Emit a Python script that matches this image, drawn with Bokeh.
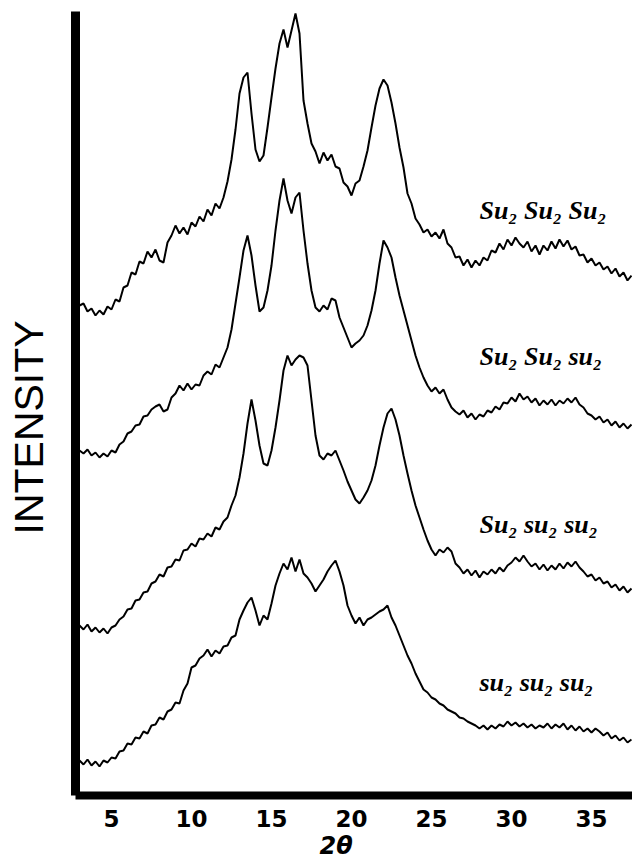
import math
from bokeh.plotting import figure
from bokeh.models import Range1d, FixedTicker, Title, ColumnDataSource
from bokeh.core.properties import value
from bokeh.embed import file_html
from bokeh.resources import INLINE

# 2-theta sampling positions (degrees), 0.25 degree steps from 3.0 to 37.5
two_theta = [3.0 + 0.25 * i for i in range(139)]

# Intensities (arbitrary units, stacked traces)
su_su_su = [
    490, 492, 484, 487, 480, 485, 481, 489, 486, 496, 494, 508,
    510, 523, 521, 534, 532, 544, 538, 546, 535, 533, 553, 560,
    570, 562, 568, 561, 573, 569, 579, 574, 586, 580, 592, 587,
    598, 614, 636, 666, 702, 718, 723, 682, 646, 634, 640, 668,
    698, 727, 752, 766, 748, 765, 782, 762, 695, 672, 652, 644,
    632, 643, 635, 641, 629, 627, 613, 609, 600, 612, 615, 629,
    645, 668, 690, 707, 716, 710, 693, 672, 648, 628, 602, 592,
    577, 571, 563, 566, 559, 563, 557, 566, 552, 548, 538, 539,
    530, 536, 528, 535, 530, 538, 535, 545, 543, 552, 546, 556,
    550, 558, 552, 548, 554, 544, 550, 541, 550, 545, 554, 547,
    556, 549, 555, 546, 549, 540, 541, 533, 537, 530, 533, 526,
    529, 522, 527, 519, 523, 515, 520,
]
su_su_rec = [
    345, 342, 346, 340, 343, 338, 342, 339, 345, 343, 351, 354,
    362, 364, 370, 371, 379, 380, 386, 389, 391, 384, 386, 398,
    402, 410, 405, 412, 406, 411, 410, 420, 424, 421, 431, 428,
    438, 448, 466, 492, 518, 545, 560, 540, 510, 484, 488, 505,
    530, 565, 595, 617, 595, 582, 598, 603, 565, 532, 505, 488,
    484, 490, 486, 497, 495, 478, 468, 458, 448, 452, 455, 460,
    470, 485, 505, 532, 555, 548, 538, 518, 500, 485, 470, 455,
    440, 428, 418, 410, 404, 408, 402, 406, 396, 388, 384, 381,
    385, 378, 382, 376, 381, 379, 385, 383, 389, 386, 393, 392,
    398, 394, 402, 396, 399, 393, 397, 390, 395, 391, 396, 390,
    395, 392, 397, 393, 398, 391, 388, 382, 380, 376, 379, 373,
    376, 370, 374, 368, 372, 367, 371,
]
su_rec_rec = [
    170, 166, 171, 164, 168, 163, 167, 162, 168, 170, 176, 179,
    186, 187, 195, 196, 203, 204, 212, 214, 221, 219, 228, 229,
    236, 235, 245, 246, 252, 249, 257, 256, 262, 259, 268, 266,
    274, 278, 290, 300, 318, 342, 372, 396, 375, 350, 332, 330,
    345, 368, 395, 425, 440, 430, 436, 440, 438, 430, 395, 360,
    340, 336, 342, 340, 345, 335, 325, 314, 305, 296, 292, 298,
    305, 315, 330, 350, 368, 382, 387, 376, 360, 340, 322, 305,
    290, 278, 266, 255, 246, 240, 246, 243, 248, 244, 232, 228,
    222, 226, 220, 225, 218, 224, 221, 226, 222, 228, 224, 230,
    233, 238, 234, 240, 234, 229, 232, 226, 231, 225, 230, 226,
    232, 227, 233, 229, 234, 228, 224, 219, 221, 215, 218, 212,
    214, 208, 211, 205, 209, 203, 207,
]
rec_rec_rec = [
    35, 31, 36, 30, 34, 29, 35, 33, 38, 37, 44, 45,
    52, 51, 58, 57, 64, 62, 70, 71, 78, 76, 84, 86,
    93, 92, 105, 112, 128, 130, 137, 140, 146, 139, 145, 142,
    149, 150, 158, 160, 176, 185, 193, 198, 185, 170, 180, 176,
    192, 210, 222, 232, 226, 238, 224, 236, 222, 218, 212, 204,
    210, 216, 224, 230, 235, 224, 210, 190, 180, 172, 178, 170,
    176, 178, 181, 184, 186, 190, 178, 170, 160, 150, 140, 132,
    122, 114, 106, 103, 98, 96, 92, 90, 86, 84, 82, 78,
    77, 74, 72, 70, 67, 70, 66, 70, 67, 71, 69, 74,
    70, 73, 69, 72, 68, 71, 67, 70, 68, 72, 67, 71,
    68, 72, 66, 70, 65, 69, 64, 67, 63, 67, 64, 60,
    63, 57, 60, 55, 58, 53, 56,
]

series = [su_su_su, su_su_rec, su_rec_rec, rec_rec_rec]
genotype_labels = ["Su\u2082 Su\u2082 Su\u2082", "Su\u2082 Su\u2082 su\u2082",
                   "Su\u2082 su\u2082 su\u2082", "su\u2082 su\u2082 su\u2082"]
label_x = [28.0, 28.0, 28.0, 28.0]
label_y = [585, 439, 271, 113]
x_ticks = [5, 10, 15, 20, 25, 30, 35]

p = figure(width=632, height=866, output_backend="svg", toolbar_location=None,
           x_range=Range1d(2.75, 37.5625), y_range=Range1d(0, 784),
           min_border_left=75, min_border_right=0, min_border_top=11,
           min_border_bottom=71)
p.grid.visible = False
p.outline_line_color = None
p.background_fill_color = "white"
p.border_fill_color = "white"

# bottom axis: thick line, bold tick numbers, no tick marks
p.xaxis.ticker = FixedTicker(ticks=x_ticks)
p.xaxis.axis_line_width = 8
p.xaxis.axis_line_color = "black"
p.xaxis.major_tick_line_color = None
p.xaxis.minor_tick_line_color = None
p.xaxis.major_tick_out = 0
p.xaxis.major_label_text_font = "DejaVu Sans"
p.xaxis.major_label_text_font_style = "bold"
p.xaxis.major_label_text_font_size = "23px"
p.xaxis.major_label_text_color = "black"
p.xaxis.major_label_standoff = 14

# left axis: thick line only; one invisible, unlabeled tick reserves room
p.yaxis.ticker = FixedTicker(ticks=[0])
p.yaxis.major_label_overrides = {0: ""}
p.yaxis.axis_line_width = 9
p.yaxis.axis_line_color = "black"
p.yaxis.major_tick_line_color = None
p.yaxis.minor_tick_line_color = None
p.yaxis.major_tick_in = 0
p.yaxis.major_tick_out = 23
p.yaxis.major_label_standoff = 0

# axis titles
p.add_layout(Title(text="INTENSITY", align="left", offset=261, standoff=2,
                   text_font="Liberation Sans", text_font_style="normal",
                   text_font_size="41px", text_color="black"), "left")
p.add_layout(Title(text="2\u03b8", align="left", offset=244, standoff=0,
                   text_font="DejaVu Sans", text_font_style="bold italic",
                   text_font_size="24px", text_color="black"), "below")

for ys in series:
    p.line(two_theta, ys, line_color="black", line_width=2)

src = ColumnDataSource(dict(x=label_x, y=label_y, text=genotype_labels))
p.text(x="x", y="y", text="text", source=src,
       text_font=value("Liberation Serif"), text_font_style="bold italic",
       text_font_size="26px", text_baseline="middle", text_align="left",
       text_color="black")

open("out.html", "w").write(file_html(p, INLINE))
